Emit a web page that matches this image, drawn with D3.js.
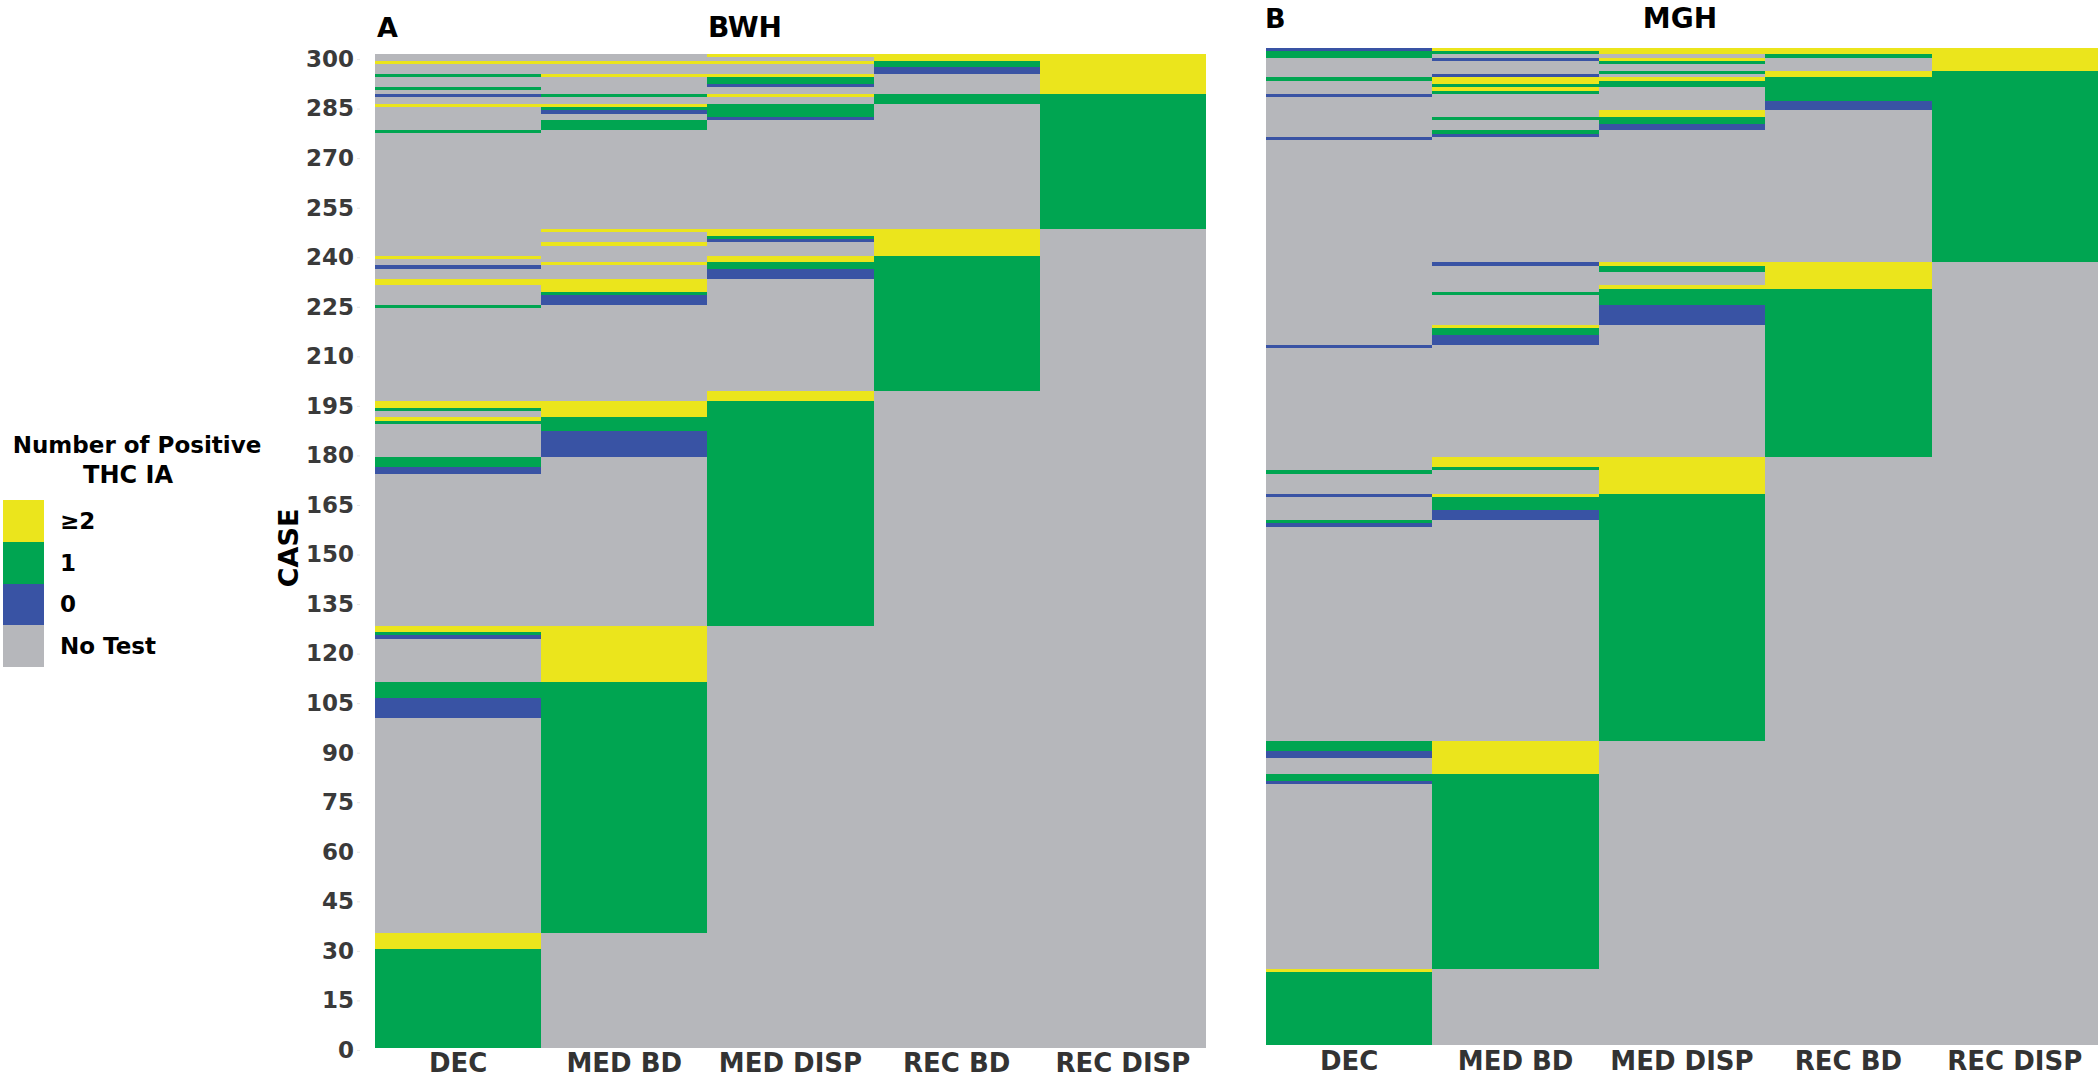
<!DOCTYPE html>
<html><head><meta charset="utf-8">
<script src="https://cdn.jsdelivr.net/npm/d3@7"></script>
<style>body{margin:0;background:#fff}</style>
</head><body>
<script>
// ---------------- DATA ----------------
const columns = ["DEC", "MED BD", "MED DISP", "REC BD", "REC DISP"];
const categories = ["≥2", "1", "0", "No Test"];
const categoryColors = ["#ebe51c", "#00a551", "#3953a4", "#b6b7bb"];
const yTickValues = [0, 15, 30, 45, 60, 75, 90, 105, 120, 135, 150, 165, 180, 195, 210, 225, 240, 255, 270, 285, 300];
const bwhCaseCount = 301;
const mghCaseCount = 302;

// segments: [fromCase, toCase, category]; cases not listed = "No Test"
const bwhDec = [[299,299,"≥2"],[295,295,"1"],[291,291,"1"],[289,289,"0"],[286,286,"≥2"],[278,278,"1"],
  [240,240,"≥2"],[237,237,"0"],[232,233,"≥2"],[225,225,"1"],[195,196,"≥2"],[194,194,"1"],[191,191,"≥2"],
  [190,190,"1"],[177,179,"1"],[175,176,"0"],[127,128,"≥2"],[126,126,"1"],[125,125,"0"],[107,111,"1"],
  [101,106,"0"],[31,35,"≥2"],[1,30,"1"]];
const bwhMedBd = [[299,299,"≥2"],[295,295,"≥2"],[289,289,"1"],[286,286,"≥2"],[285,285,"1"],[284,284,"0"],
  [279,281,"1"],[248,248,"≥2"],[244,244,"≥2"],[238,238,"≥2"],[230,233,"≥2"],[229,229,"1"],[226,228,"0"],
  [192,196,"≥2"],[188,191,"1"],[180,187,"0"],[112,128,"≥2"],[36,111,"1"]];
const bwhMedDisp = [[301,301,"≥2"],[299,299,"≥2"],[295,295,"≥2"],[293,294,"1"],[292,292,"0"],[289,289,"≥2"],
  [283,286,"1"],[282,282,"0"],[247,248,"≥2"],[246,246,"1"],[245,245,"0"],[239,240,"≥2"],[237,238,"1"],
  [234,236,"0"],[197,199,"≥2"],[129,196,"1"]];
const bwhRecBd = [[300,301,"≥2"],[298,299,"1"],[296,297,"0"],[287,289,"1"],[241,248,"≥2"],[200,240,"1"]];
const bwhRecDisp = [[290,301,"≥2"],[249,289,"1"]];

const mghDec = [[302,302,"0"],[300,301,"1"],[293,293,"1"],[288,288,"0"],[275,275,"0"],[212,212,"0"],
  [174,174,"1"],[167,167,"0"],[159,159,"1"],[158,158,"0"],[90,92,"1"],[88,89,"0"],[81,82,"1"],[80,80,"0"],
  [23,23,"≥2"],[1,22,"1"]];
const mghMedBd = [[302,302,"≥2"],[301,301,"1"],[299,299,"0"],[294,294,"0"],[292,293,"≥2"],[291,291,"1"],
  [290,290,"≥2"],[289,289,"1"],[281,281,"1"],[277,277,"1"],[276,276,"0"],[237,237,"0"],[228,228,"1"],
  [218,218,"≥2"],[216,217,"1"],[213,215,"0"],[176,178,"≥2"],[175,175,"1"],[167,167,"≥2"],[163,166,"1"],
  [160,162,"0"],[83,92,"≥2"],[24,82,"1"]];
const mghMedDisp = [[301,302,"≥2"],[299,299,"≥2"],[298,298,"1"],[295,295,"1"],[293,293,"≥2"],[291,292,"1"],
  [282,283,"≥2"],[280,281,"1"],[278,279,"0"],[237,237,"≥2"],[235,236,"1"],[230,230,"≥2"],[225,229,"1"],
  [219,224,"0"],[168,178,"≥2"],[93,167,"1"]];
const mghRecBd = [[301,302,"≥2"],[300,300,"1"],[294,295,"≥2"],[287,293,"1"],[284,286,"0"],[230,237,"≥2"],[179,229,"1"]];
const mghRecDisp = [[296,302,"≥2"],[238,295,"1"]];

// ---------------- DRAW ----------------
const W = 2100, H = 1079;
const FONT = "'DejaVu Sans', sans-serif";
const svg = d3.select("body").append("svg").attr("width", W).attr("height", H)
  .style("display", "block").style("background", "#fff");

const color = d3.scaleOrdinal().domain(categories).range(categoryColors);

function buildCells(caseCount, segs) {
  const cells = [];
  columns.forEach((col, ci) => {
    for (let c = 1; c <= caseCount; c++) {
      const s = segs[ci].find(d => c >= d[0] && c <= d[1]);
      cells.push({col, caseNo: c, cat: s ? s[2] : "No Test"});
    }
  });
  return cells;
}

function drawPanel(opts) {
  const x = d3.scaleBand().domain(columns).range(opts.xRange).padding(0);
  const y = d3.scaleLinear().domain([0.5, opts.caseCount + 0.5]).range(opts.yRange);
  const g = svg.append("g");
  const cells = buildCells(opts.caseCount, opts.segs);
  g.selectAll("rect.cell").data(cells).enter().append("rect")
    .attr("class", "cell")
    .attr("x", d => x(d.col))
    .attr("width", x.bandwidth())
    .attr("y", d => y(d.caseNo + 0.5))
    .attr("height", d => y(d.caseNo - 0.5) - y(d.caseNo + 0.5))
    .attr("fill", d => color(d.cat))
    .attr("shape-rendering", "crispEdges");

  // column labels
  const xAxis = d3.axisBottom(x).tickSize(0).tickPadding(0);
  const xa = svg.append("g").attr("transform", `translate(0,${opts.labelBaseline})`).call(xAxis);
  xa.select(".domain").remove();
  xa.selectAll("text").attr("dy", 0).attr("y", 0)
    .style("font-family", FONT).style("font-weight", "bold").style("font-size", "26px")
    .attr("fill", "#333");

  // panel letter and title
  svg.append("text").attr("x", opts.letterX).attr("y", opts.titleBaseline).text(opts.letter)
    .style("font-family", FONT).style("font-weight", "bold").style("font-size", "27px").attr("fill", "#000");
  svg.append("text").attr("x", opts.titleX).attr("y", opts.titleBaseline).attr("text-anchor", "middle")
    .text(opts.title)
    .style("font-family", FONT).style("font-weight", "bold").style("font-size", "28px").attr("fill", "#000");

  if (opts.yAxis) {
    const yAxis = d3.axisLeft(y).tickValues(yTickValues).tickSize(3).tickPadding(3);
    const ya = svg.append("g").attr("transform", `translate(${opts.xRange[0] - 15},0)`).call(yAxis);
    ya.select(".domain").remove();
    ya.selectAll(".tick line").attr("stroke", "#e6e6e6");
    ya.selectAll("text")
      .style("font-family", FONT).style("font-weight", "bold").style("font-size", "23px")
      .attr("fill", "#3a3a3a");
    svg.append("text")
      .attr("transform", `translate(288,${y(152)}) rotate(-90)`)
      .attr("text-anchor", "middle").attr("dominant-baseline", "central")
      .text("CASE")
      .style("font-family", FONT).style("font-weight", "bold").style("font-size", "27px").attr("fill", "#000");
  }
}

drawPanel({
  segs: [bwhDec, bwhMedBd, bwhMedDisp, bwhRecBd, bwhRecDisp],
  caseCount: bwhCaseCount, xRange: [375, 1206], yRange: [1048.3, 54.1],
  labelBaseline: 1072, letter: "A", letterX: 377, title: "BWH", titleX: 745, titleBaseline: 37, yAxis: true
});
drawPanel({
  segs: [mghDec, mghMedBd, mghMedDisp, mghRecBd, mghRecDisp],
  caseCount: mghCaseCount, xRange: [1266, 2098], yRange: [1045, 47.7],
  labelBaseline: 1070, letter: "B", letterX: 1265, title: "MGH", titleX: 1680, titleBaseline: 28, yAxis: false
});

// ---------------- LEGEND ----------------
const lg = svg.append("g");
lg.append("text").attr("x", 137).attr("y", 453).attr("text-anchor", "middle").text("Number of Positive")
  .style("font-family", FONT).style("font-weight", "bold").style("font-size", "23px").attr("fill", "#000");
lg.append("text").attr("x", 128).attr("y", 483).attr("text-anchor", "middle").text("THC IA")
  .style("font-family", FONT).style("font-weight", "bold").style("font-size", "24px").attr("fill", "#000");
const ly = d3.scaleBand().domain(categories).range([500, 667]);
lg.selectAll("rect.sw").data(categories).enter().append("rect")
  .attr("x", 3).attr("width", 41)
  .attr("y", d => ly(d)).attr("height", ly.bandwidth())
  .attr("fill", d => color(d)).attr("shape-rendering", "crispEdges");
lg.selectAll("text.lab").data(categories).enter().append("text")
  .attr("x", 60).attr("y", d => ly(d) + ly.bandwidth() / 2).attr("dominant-baseline", "central")
  .text(d => d)
  .style("font-family", FONT).style("font-weight", "bold").style("font-size", "23px").attr("fill", "#000");
</script>
</body></html>
